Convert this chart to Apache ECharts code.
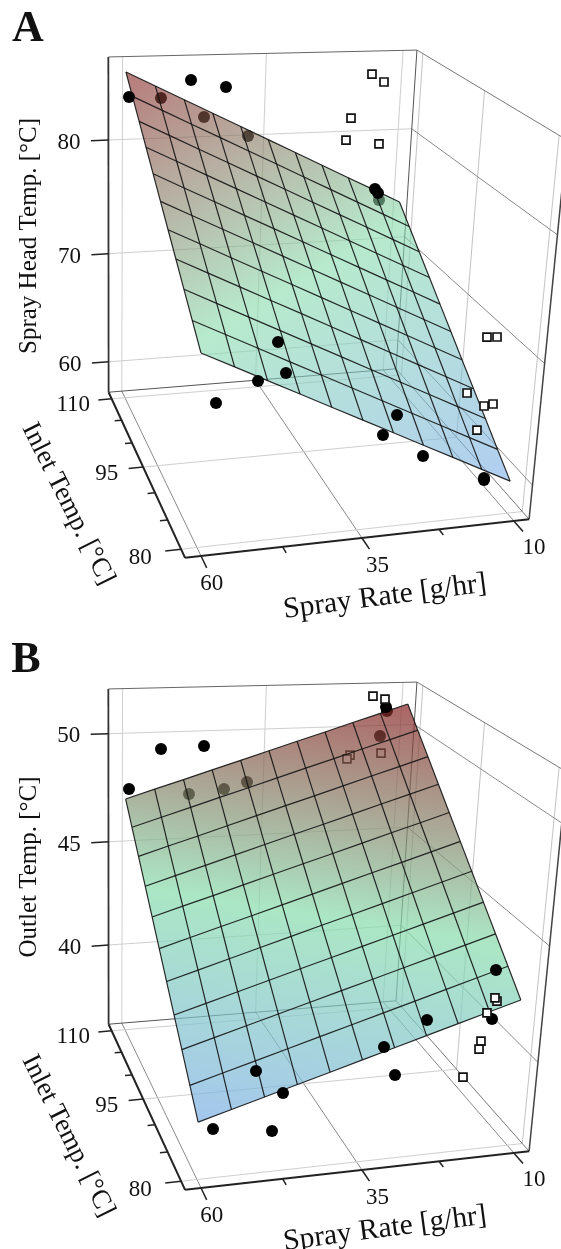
<!DOCTYPE html>
<html><head><meta charset="utf-8"><style>html,body{margin:0;padding:0;background:#fff}#c{width:561px;height:1249px}</style>
<script src="https://cdn.jsdelivr.net/npm/echarts@6/dist/echarts.min.js"></script></head>
<body><div id="c"></div>
<script>
// ---- data: [spray rate g/hr, inlet temp C, response temp C]
var rateTicks = [60, 47.5, 35, 22.5, 10];
var rateLabels = [60, 35, 10];
var inletTicks = [110, 105, 100, 95, 90, 85, 80];
var inletLabels = [110, 95, 80];
var headTempTicks = [80, 70, 60];
var outletTempTicks = [50, 45, 40];
var rateRange = [62.4, 7.4];
var inletRange = [111.6, 78.6];
var headTempRange = [57.1, 87];
var outletTempRange = [36, 52];

var headCirclesBehind = [[58.07,100,86.05],[53.38,95,85.63],[38.66,110,80.30],[34.52,80,82.87]];
var headCirclesFront = [[59.47,110,83.96],[51.10,105,86.32],[42.79,110,84.57],[35.22,80,83.68],[34.73,80,83.38],[57.62,80,68.48],[35.38,110,57.66],[34.65,105,63.20],[35.82,100,62.26],[15.04,100,57.47],[31.66,80,64.76],[17.24,90,58.00],[10.18,85,57.88],[10.15,85,57.71]];
var headSquaresBehind = [];
var headSquaresFront = [[16.63,110,85.34],[14.32,110,84.62],[32.92,90,86.37],[33.54,90,84.71],[31.61,85,85.60],[11.79,85,69.98],[10.08,85,69.92],[10.26,90,63.27],[11.28,85,64.18],[9.75,85,64.28],[12.14,85,62.16]];

var outletCirclesBehind = [[60.01,85,50.85],[57.33,80,51.69],[38.76,110,47.76],[13.80,110,50.86],[14.83,110,49.70]];
var outletCirclesFront = [[59.43,110,47.66],[60.06,95,51.33],[53.39,95,51.39],[14.03,110,51.05],[57.73,80,38.13],[45.86,85,36.46],[43.42,95,36.84],[41.45,90,36.89],[31.70,80,40.96],[29.64,80,39.70],[9.72,100,37.44],[10.24,85,42.82],[10.18,85,40.63]];
var outletSquaresBehind = [[33.04,90,51.46],[33.49,90,51.31],[14.45,110,48.89]];
var outletSquaresFront = [[16.55,110,51.57],[14.30,110,51.42],[9.60,85,41.42],[9.99,85,41.57],[11.14,85,40.92],[11.76,85,39.66],[11.98,85,39.30],[10.21,90,36.82]];

var surfaceRates = [60,55,50,45,40,35,30,25,20,15,10];
var surfaceInlets = [110,107,104,101,98,95,92,89,86,83,80];
var headSurface = [
[86.05,84.82,83.60,82.37,81.14,79.92,78.69,77.46,76.23,75.01,73.78],
[84.68,83.45,82.22,81.00,79.77,78.54,77.31,76.08,74.85,73.62,72.39],
[83.32,82.09,80.85,79.62,78.39,77.15,75.92,74.69,73.46,72.22,70.99],
[81.95,80.72,79.48,78.25,77.01,75.78,74.54,73.31,72.07,70.84,69.60],
[80.59,79.35,78.11,76.87,75.64,74.40,73.16,71.92,70.68,69.45,68.21],
[79.22,77.98,76.74,75.50,74.26,73.02,71.78,70.54,69.30,68.06,66.82],
[77.85,76.61,75.36,74.12,72.88,71.64,70.39,69.15,67.91,66.66,65.42],
[76.49,75.24,74.00,72.75,71.51,70.26,69.01,67.77,66.52,65.28,64.03],
[75.12,73.87,72.62,71.38,70.13,68.88,67.63,66.38,65.14,63.89,62.64],
[73.76,72.51,71.26,70.00,68.75,67.50,66.25,65.00,63.74,62.49,61.24],
[72.39,71.14,69.88,68.63,67.37,66.12,64.87,63.61,62.36,61.10,59.85]];
var outletSurface = [
[47.20,47.60,47.99,48.39,48.78,49.18,49.58,49.97,50.37,50.76,51.16],
[46.33,46.73,47.12,47.52,47.91,48.31,48.71,49.10,49.50,49.89,50.29],
[45.46,45.86,46.25,46.65,47.05,47.45,47.84,48.24,48.64,49.03,49.43],
[44.59,44.99,45.38,45.78,46.18,46.58,46.97,47.37,47.77,48.16,48.56],
[43.72,44.12,44.51,44.91,45.31,45.71,46.10,46.50,46.90,47.29,47.69],
[42.85,43.25,43.65,44.04,44.44,44.84,45.24,45.64,46.03,46.43,46.83],
[41.97,42.37,42.77,43.17,43.57,43.97,44.36,44.76,45.16,45.56,45.96],
[41.10,41.50,41.90,42.30,42.70,43.10,43.49,43.89,44.29,44.69,45.09],
[40.23,40.63,41.03,41.43,41.83,42.23,42.62,43.02,43.42,43.82,44.22],
[39.36,39.76,40.16,40.56,40.96,41.36,41.76,42.16,42.56,42.96,43.36],
[38.49,38.89,39.29,39.69,40.09,40.49,40.89,41.29,41.69,42.09,42.49]];

// ---- camera: where the corners of the unit box fall inside a panel
var cameraAnchors = [[0,0,0,109,392],[0,1,0,185,558],[1,1,0,530,519],[1,0,0,395,369],[0,0,1,108,57],[1,0,1,418,50],[1,1,1,566,140]];
var PANEL_H = 632, FONT = '"Liberation Serif","Times New Roman",serif', TICK_SIZE = 23;

function solve(A,b){var n=b.length,i,j,k;A=A.map(function(r,i){return r.concat(b[i])});for(i=0;i<n;i++){var m=i;for(k=i;k<n;k++)if(Math.abs(A[k][i])>Math.abs(A[m][i]))m=k;var t=A[i];A[i]=A[m];A[m]=t;for(k=i+1;k<n;k++){var f=A[k][i]/A[i][i];for(j=i;j<=n;j++)A[k][j]-=f*A[i][j]}}var x=[];for(i=n-1;i>=0;i--){var s=A[i][n];for(j=i+1;j<n;j++)s-=A[i][j]*x[j];x[i]=s/A[i][i]}return x}
function calibrate(){var R=[],Y=[];cameraAnchors.forEach(function(c){var X=c[0],V=c[1],Z=c[2],x=c[3],y=c[4];R.push([X,V,Z,1,0,0,0,0,-x*X,-x*V,-x*Z]);Y.push(x);R.push([0,0,0,0,X,V,Z,1,-y*X,-y*V,-y*Z]);Y.push(y)});var n=11,A=[],b=[],i,j,k;for(i=0;i<n;i++){A.push([]);b.push(0);for(j=0;j<n;j++){var s=0;for(k=0;k<R.length;k++)s+=R[k][i]*R[k][j];A[i].push(s)}for(k=0;k<R.length;k++)b[i]+=R[k][i]*Y[k]}return solve(A,b)}
var M = calibrate();
function makeProject(tr){return function(p){var u=(p[0]-rateRange[0])/(rateRange[1]-rateRange[0]),v=(p[1]-inletRange[0])/(inletRange[1]-inletRange[0]),w=(p[2]-tr[0])/(tr[1]-tr[0]);var d=M[8]*u+M[9]*v+M[10]*w+1;return[(M[0]*u+M[1]*v+M[2]*w+M[3])/d,(M[4]*u+M[5]*v+M[6]*w+M[7])/d]}}

function mix(a,b,t){return [0,1,2].map(function(i){return Math.round(a[i]+(b[i]-a[i])*t)})}
var BLUE=[125,175,230],GREEN=[135,220,172],RED=[135,35,35];
function stops(alpha){var s=[];for(var i=0;i<=10;i++){var t=i/10,c=t<.5?mix(BLUE,GREEN,t*2):mix(GREEN,RED,(t-.5)*2);s.push({offset:t,color:'rgba('+c+','+alpha+')'})}return s}

function panel(idx,cfg){
  var project=makeProject(cfg.range), T0=cfg.range[0], T1=cfg.range[1];
  var rL=rateRange[0], rR=rateRange[1], iB=inletRange[0], iF=inletRange[1];
  var L=function(a,b,color,width){return {a:a,b:b,color:color,width:width}};
  var segs=[];
  // gridlines
  rateLabels.forEach(function(r){segs.push(L([r,iB,T0],[r,iB,T1],'#cfcfcf',1));segs.push(L([r,iB,T0],[r,iF,T0],'#8a8a8a',1))});
  inletLabels.forEach(function(i){segs.push(L([rR,i,T0],[rR,i,T1],'#c4c4c4',1));segs.push(L([rL,i,T0],[rR,i,T0],'#cfcfcf',1))});
  cfg.ticks.forEach(function(t){segs.push(L([rL,iB,t],[rR,iB,t],'#cfcfcf',1));segs.push(L([rR,iB,t],[rR,iF,t],'#8a8a8a',1))});
  // box
  segs.push(L([rL,iB,T1],[rR,iB,T1],'#666',1));
  segs.push(L([rR,iB,T1],[rR,iF,T1],'#777',1));
  segs.push(L([rR,iB,T0],[rR,iB,T1],'#555',1));
  segs.push(L([rL,iB,T0],[rR,iB,T0],'#555',1));
  segs.push(L([rR,iB,T0],[rR,iF,T0],'#777',1));
  segs.push(L([rL,iB,T0],[rL,iB,T1],'#333',1.8));
  segs.push(L([rR,iF,T0],[rR,iF,T1],'#444',1.5));
  segs.push(L([rL,iB,T0],[rL,iF,T0],'#222',2));
  segs.push(L([rL,iF,T0],[rR,iF,T0],'#222',2));
  // ticks
  var ticks=[];
  rateTicks.forEach(function(r){var maj=rateLabels.indexOf(r)>=0;ticks.push(L([r,iF,T0],[r,iF-(maj?1.9:1),T0],'#222',1.5))});
  inletTicks.forEach(function(i){var maj=inletLabels.indexOf(i)>=0;ticks.push(L([rL,i,T0],[rL+(maj?2.4:1.2),i,T0],'#222',1.5))});
  cfg.ticks.forEach(function(t){ticks.push(L([rL,iB,t],[rL+3,iB,t],'#222',1.5))});

  function lineSeries(list,z){return {type:'custom',name:'lines',xAxisIndex:idx,yAxisIndex:idx,z:z,silent:true,clip:false,
    data:list.map(function(s,i){return [i]}),encode:{x:0},
    renderItem:function(p,api){var s=list[p.dataIndex],a=api.coord(project(s.a)),b=api.coord(project(s.b));
      return {type:'line',shape:{x1:a[0],y1:a[1],x2:b[0],y2:b[1]},style:{stroke:s.color,lineWidth:s.width}}}}}

  var surf=cfg.surface, nr=surfaceInlets.length, nc=surfaceRates.length;
  var sp=function(i,j){return project([surfaceRates[j],surfaceInlets[i],surf[i][j]])};
  var surfaceSeries={type:'custom',name:'surface',xAxisIndex:idx,yAxisIndex:idx,z:3,silent:true,clip:false,data:[[0]],encode:{x:0},
    renderItem:function(p,api){
      var c=function(i,j){return api.coord(sp(i,j))};
      var p0=c(0,0),p1=c(0,nc-1),p2=c(nr-1,0),p3=c(nr-1,nc-1);
      var d1=[p1[0]-p0[0],p1[1]-p0[1]],d2=[p2[0]-p0[0],p2[1]-p0[1]];
      var g=solve([d1,d2],[surf[0][nc-1]-surf[0][0],surf[nr-1][0]-surf[0][0]]);
      var gg=g[0]*g[0]+g[1]*g[1];
      var vals=[].concat.apply([],surf),mn=Math.min.apply(null,vals),mx=Math.max.apply(null,vals);
      var at=function(T){var k=(T-surf[0][0])/gg;return[p0[0]+g[0]*k,p0[1]+g[1]*k]};
      var s=at(mn),e=at(mx);
      var kids=[{type:'polygon',shape:{points:[p0,p1,p3,p2]},style:{fill:{type:'linear',global:true,x:s[0],y:s[1],x2:e[0],y2:e[1],colorStops:stops(cfg.alpha)}}}];
      var stroke={stroke:'rgba(20,20,20,0.9)',lineWidth:1.2,fill:null};
      for(var i=0;i<nr;i++){var a=[];for(var j=0;j<nc;j++)a.push(c(i,j));kids.push({type:'polyline',shape:{points:a},style:stroke})}
      for(j=0;j<nc;j++){a=[];for(i=0;i<nr;i++)a.push(c(i,j));kids.push({type:'polyline',shape:{points:a},style:stroke})}
      return {type:'group',children:kids}}};

  function scatter(pts,sq,z){return {type:'scatter',xAxisIndex:idx,yAxisIndex:idx,z:z,silent:true,clip:false,
    data:pts.map(project),symbol:sq?'rect':'circle',symbolSize:sq?8:12,
    itemStyle:sq?{color:'#fff',borderColor:'#111',borderWidth:1.7,opacity:1}:{color:'#000',opacity:1}}}

  var labels=[];
  cfg.ticks.forEach(function(t,k){var q=project([rL+3,iB,t]);labels.push({p:q,t:String(t),o:[-22,2]})});
  inletLabels.forEach(function(i,k){var q=project([rL+2.4,i,T0]);labels.push({p:q,t:String(i),o:[[-25,5],[-22,6],[-25,7]][k]})});
  rateLabels.forEach(function(r,k){var q=project([r,iF-1.9,T0]);labels.push({p:q,t:String(r),o:[[5,16],[8,17],[11,16]][k]})});
  var labelSeries={type:'custom',name:'tick labels',xAxisIndex:idx,yAxisIndex:idx,z:6,silent:true,clip:false,data:labels.map(function(l,i){return [i]}),encode:{x:0},
    renderItem:function(p,api){var l=labels[p.dataIndex],c=api.coord(l.p);
      return {type:'text',x:c[0]+l.o[0],y:c[1]+l.o[1],style:{text:l.t,fill:'#111',font:TICK_SIZE+'px '+FONT,align:'center',verticalAlign:'middle'}}}};

  return [lineSeries(segs,1),scatter(cfg.cb,false,2),scatter(cfg.sb,true,2),surfaceSeries,scatter(cfg.cf,false,4),scatter(cfg.sf,true,5),lineSeries(ticks,6),labelSeries];
}

var series=panel(0,{range:headTempRange,ticks:headTempTicks,surface:headSurface,alpha:0.6,cb:headCirclesBehind,cf:headCirclesFront,sb:headSquaresBehind,sf:headSquaresFront})
  .concat(panel(1,{range:outletTempRange,ticks:outletTempTicks,surface:outletSurface,alpha:0.7,cb:outletCirclesBehind,cf:outletCirclesFront,sb:outletSquaresBehind,sf:outletSquaresFront}));

function txt(t,x,y,rot,size,bold){return {type:'text',x:x,y:y,rotation:rot*Math.PI/180,z:10,silent:true,style:{text:t,fill:'#111',font:(bold?'bold ':'')+size+'px '+FONT,textAlign:'center',textVerticalAlign:'middle'}}}
var titles=[txt('A',28,30,0,44,true),txt('B',26,661,0,44,true),
 txt('Spray Head Temp. [°C]',29,236,90,25),txt('Outlet Temp. [°C]',29,867,90,25),
 txt('Inlet Temp. [°C]',68,504,-63.5,27),txt('Inlet Temp. [°C]',68,504+PANEL_H,-63.5,27),
 txt('Spray Rate [g/hr]',385,597,7.5,29.5),txt('Spray Rate [g/hr]',385,597+PANEL_H,7.5,29.5)];

var chart=echarts.init(document.getElementById('c'),null,{renderer:'canvas',width:561,height:1249});
chart.setOption({animation:false,backgroundColor:'#fff',
 grid:[{left:0,top:0,width:561,height:PANEL_H},{left:0,top:PANEL_H,width:561,height:1249-PANEL_H}],
 xAxis:[{type:'value',min:0,max:561,show:false,gridIndex:0},{type:'value',min:0,max:561,show:false,gridIndex:1}],
 yAxis:[{type:'value',min:0,max:PANEL_H,inverse:true,show:false,gridIndex:0},{type:'value',min:0,max:1249-PANEL_H,inverse:true,show:false,gridIndex:1}],
 graphic:titles,series:series});
</script></body></html>
